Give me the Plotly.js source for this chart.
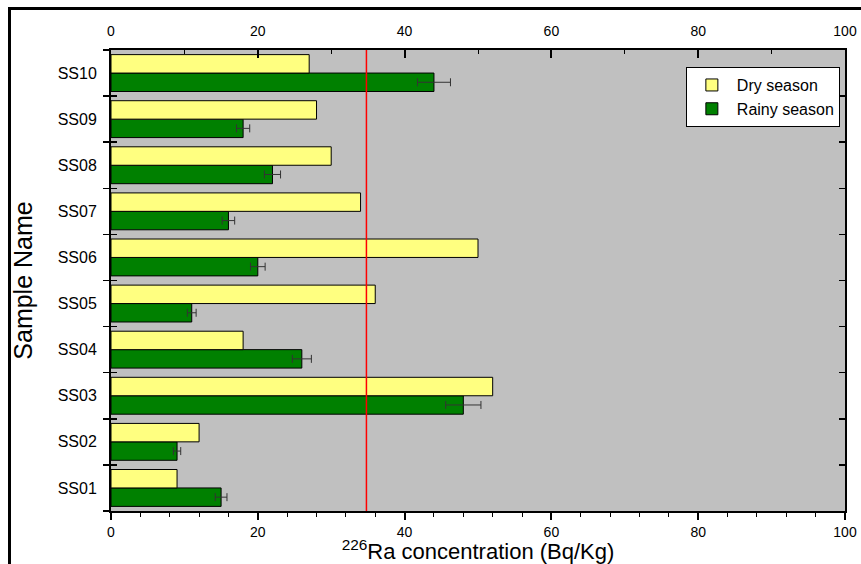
<!DOCTYPE html>
<html>
<head>
<meta charset="utf-8">
<script src="https://cdn.plot.ly/plotly-3.0.1.min.js"></script>
<style>
  html, body { margin: 0; padding: 0; background: #ffffff; }
  #wrap { position: relative; width: 861px; height: 564px; overflow: hidden; }
  #chart { width: 861px; height: 564px; }
  #frame { position: absolute; left: 8px; top: 7px; width: 900px; height: 600px;
           border-top: 3px solid #000; border-left: 3px solid #000; pointer-events: none; }
</style>
</head>
<body>
<div id="wrap">
  <div id="chart"></div>
  <div id="frame"></div>
</div>
<script>
// ---- data ----
const categories = ["SS01", "SS02", "SS03", "SS04", "SS05", "SS06", "SS07", "SS08", "SS09", "SS10"];
const drySeason = [9, 12, 52, 18, 36, 50, 34, 30, 28, 27];
const rainySeason = [15, 9, 48, 26, 11, 20, 16, 22, 18, 44];
const rainyError = [0.8, 0.5, 2.4, 1.3, 0.6, 1.0, 0.85, 1.1, 0.9, 2.25];
const referenceLevel = 34.8;
const xTickValues = [0, 20, 40, 60, 80, 100];

const FONT = "Liberation Sans, Arial, sans-serif";
const boundaries = categories.map((c, i) => i - 0.5).concat([categories.length - 0.5]);

const traces = [
  {
    type: "bar", orientation: "h", name: "Rainy season",
    y: categories, x: rainySeason,
    marker: { color: "#008000", line: { color: "#000000", width: 1 } },
    error_x: { type: "data", array: rainyError, visible: true, color: "#333333", thickness: 1, width: 4 }
  },
  {
    type: "bar", orientation: "h", name: "Dry season",
    y: categories, x: drySeason,
    marker: { color: "#FFFF80", line: { color: "#000000", width: 1 } }
  },
  // helper traces so that the mirrored top x axis and the outer left y ticks are drawn
  {
    type: "scatter", mode: "markers", xaxis: "x2", yaxis: "y",
    x: [null], y: [null], showlegend: false, hoverinfo: "skip"
  },
  {
    type: "scatter", mode: "markers", xaxis: "x", yaxis: "y2",
    x: [null], y: [null], showlegend: false, hoverinfo: "skip"
  }
];

const layout = {
  width: 861, height: 564,
  margin: { l: 111, r: 16, t: 50, b: 53 },
  paper_bgcolor: "#ffffff",
  plot_bgcolor: "#C0C0C0",
  barmode: "group",
  bargap: 0.2,
  bargroupgap: 0,
  font: { family: FONT, color: "#000000" },
  xaxis: {
    range: [0, 100], tickvals: xTickValues,
    showline: true, linewidth: 2, linecolor: "#000",
    ticks: "outside", ticklen: 7, tickwidth: 2, tickcolor: "#000",
    minor: { dtick: 4, ticks: "outside", ticklen: 4, tickwidth: 1, tickcolor: "#000" },
    showgrid: false, zeroline: false,
    tickfont: { size: 14, family: FONT },
    title: { text: "<sup>226</sup>Ra concentration (Bq/Kg)", font: { size: 22, family: FONT }, standoff: 3 }
  },
  xaxis2: {
    overlaying: "x", side: "top", anchor: "y",
    range: [0, 100], tickvals: xTickValues,
    showline: true, linewidth: 2, linecolor: "#000",
    ticks: "inside", ticklen: 8, tickwidth: 2, tickcolor: "#000",
    minor: { dtick: 10, ticks: "inside", ticklen: 4, tickwidth: 1, tickcolor: "#000" },
    ticklabelstandoff: 6,
    showgrid: false, zeroline: false,
    tickfont: { size: 14, family: FONT }
  },
  yaxis: {
    type: "category", categoryorder: "array", categoryarray: categories,
    range: [-0.5, categories.length - 0.5],
    showline: true, linewidth: 2, linecolor: "#000", mirror: "ticks",
    ticks: "inside", tickson: "boundaries", ticklen: 6, tickwidth: 1.5, tickcolor: "#000",
    showgrid: false, zeroline: false,
    tickfont: { size: 16, family: FONT },
    ticklabelstandoff: 9,
    title: { text: "Sample Name", font: { size: 25, family: FONT }, standoff: 18 }
  },
  yaxis2: {
    overlaying: "y", side: "left", anchor: "x",
    range: [-0.5, categories.length - 0.5],
    tickvals: boundaries, showticklabels: false,
    ticks: "outside", ticklen: 7, tickwidth: 1.5, tickcolor: "#000",
    showline: false, showgrid: false, zeroline: false
  },
  legend: {
    x: 0.993, xanchor: "right", y: 0.963, yanchor: "top",
    traceorder: "reversed",
    bgcolor: "#ffffff", bordercolor: "#000000", borderwidth: 1,
    font: { size: 16, family: FONT },
    itemwidth: 40, tracegroupgap: 0
  },
  shapes: [{
    type: "line", xref: "x", yref: "paper",
    x0: referenceLevel, x1: referenceLevel, y0: 0, y1: 1,
    line: { color: "#FF0000", width: 1.5 }, layer: "above"
  }],
  showlegend: true
};

Plotly.newPlot("chart", traces, layout, { displayModeBar: false, staticPlot: true });
</script>
</body>
</html>
